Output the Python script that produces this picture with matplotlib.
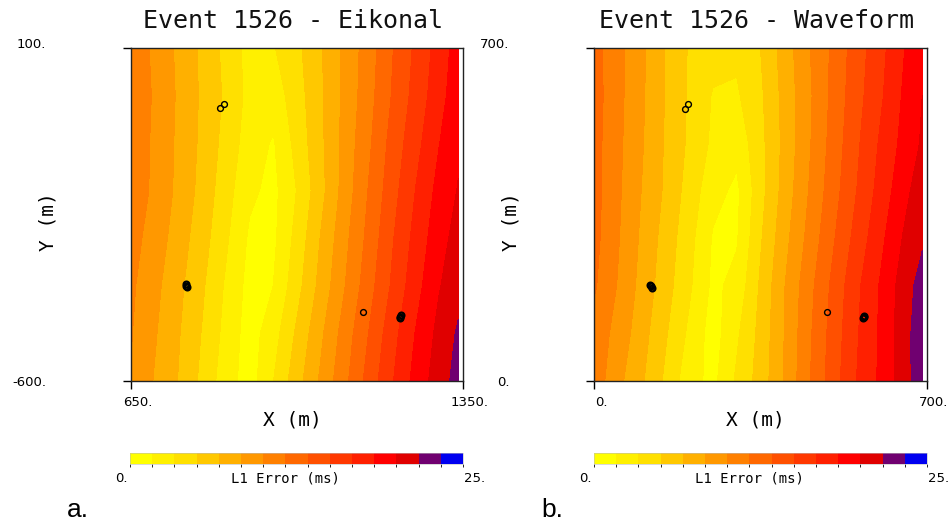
import numpy as np
import matplotlib
matplotlib.use("Agg")
import matplotlib.pyplot as plt
from matplotlib.colors import ListedColormap, BoundaryNorm
from matplotlib.cm import ScalarMappable
from matplotlib.transforms import ScaledTranslation

# ---------------- data ----------------
level_colors = ['#FFFF00', '#FFF000', '#FFE000', '#FFC800', '#FFB000',
                '#FF9800', '#FF8000', '#FF6800', '#FF5000', '#FF3800',
                '#FF2000', '#FF0000', '#E00000', '#700070', '#0000F0']
err_min, err_max = 0, 25

# Panel a: Eikonal (L1 error in ms on a coarse grid)
eik_x = [650, 700, 750, 800, 850, 900, 950, 1000, 1050, 1100, 1150, 1200, 1250, 1300, 1340]
eik_y = [100, 0, -100, -200, -300, -400, -500, -600]
eik_err = [
    [11.3, 9.6, 8.0, 6.3, 4.5, 2.7, 3.2, 4.6, 6.5, 8.7, 10.8, 13.2, 15.3, 17.4, 19.1],
    [11.2, 9.8, 8.1, 6.4, 4.7, 2.8, 2.4, 4.25, 6.4, 8.7, 11.0, 13.4, 15.6, 17.7, 19.4],
    [11.1, 9.7, 8.0, 6.3, 4.4, 2.5, 1.5, 3.9, 6.3, 8.9, 11.3, 13.9, 16.1, 18.3, 19.7],
    [10.9, 9.7, 7.9, 6.1, 4.0, 2.0, 1.2, 3.4, 6.1, 9.0, 11.7, 14.3, 16.7, 18.9, 20.1],
    [10.6, 9.3, 7.5, 5.7, 3.6, 1.4, 1.3, 3.9, 6.75, 9.5, 12.1, 14.8, 17.2, 19.4, 20.6],
    [10.3, 8.8, 7.1, 5.25, 3.1, 1.1, 1.67, 4.4, 7.2, 9.9, 12.6, 15.2, 17.7, 19.9, 21.1],
    [10.1, 8.5, 6.8, 4.9, 2.8, 0.9, 2.6, 5.3, 8.0, 10.7, 13.3, 16.0, 18.4, 20.5, 21.9],
    [9.9, 8.2, 6.6, 4.6, 2.4, 0.9, 3.3, 6.0, 8.6, 11.2, 13.9, 16.5, 18.9, 20.9, 22.3],
]
eik_open_x = [838, 846, 1139]
eik_open_y = [-26, -18, -455]
eik_cluster_x = [766, 769, 767, 1218, 1219, 1217]
eik_cluster_y = [-397, -403, -400, -465, -462, -468]

# Panel b: Waveform
wav_x = [0, 50, 100, 150, 200, 250, 300, 350, 400, 450, 500, 550, 600, 650, 690]
wav_y = [700, 600, 500, 400, 300, 200, 100, 0]
wav_err = [
    [12.3, 10.5, 8.7, 6.6, 4.85, 4.0, 3.7, 5.0, 7.4, 9.8, 11.9, 14.1, 16.05, 18.2, 19.8],
    [12.4, 10.5, 8.6, 6.6, 4.8, 3.2, 3.1, 4.7, 7.2, 9.6, 12.0, 14.3, 16.3, 18.5, 20.0],
    [12.3, 10.4, 8.5, 6.5, 4.7, 3.0, 2.2, 4.5, 7.1, 9.7, 12.2, 14.6, 16.8, 18.8, 20.2],
    [12.3, 10.3, 8.3, 6.4, 4.3, 2.25, 1.3, 4.4, 7.3, 9.95, 12.5, 14.9, 17.2, 19.4, 21.0],
    [12.2, 10.15, 8.05, 6.0, 3.9, 1.5, 1.5, 4.8, 7.75, 10.4, 13.0, 15.5, 17.8, 20.1, 21.4],
    [11.9, 9.9, 7.8, 5.7, 3.6, 1.3, 2.15, 5.25, 8.25, 11.0, 13.6, 16.2, 18.4, 20.75, 22.4],
    [11.0, 9.45, 7.35, 5.2, 3.0, 0.9, 3.05, 5.5, 8.35, 11.25, 13.9, 16.4, 18.5, 20.9, 22.8],
    [11.0, 8.8, 6.9, 4.7, 2.3, 1.2, 3.6, 5.7, 8.45, 11.4, 14.1, 16.6, 18.55, 20.8, 22.9],
]
wav_open_x = [191, 198, 489]
wav_open_y = [572, 582, 145]
wav_cluster_x = [118, 121, 119, 567, 566, 568]
wav_cluster_y = [202, 195, 199, 135, 132, 137]

panels = [
    dict(title="Event 1526 - Eikonal", x=eik_x, y=eik_y, z=eik_err,
         xlim=(650, 1350), ylim=(-600, 100),
         xticks=[650, 1350], xticklabels=["650.", "1350."],
         yticks=[-600, 100], yticklabels=["-600.", "100."],
         ox=eik_open_x, oy=eik_open_y, cx=eik_cluster_x, cy=eik_cluster_y,
         tag="a."),
    dict(title="Event 1526 - Waveform", x=wav_x, y=wav_y, z=wav_err,
         xlim=(0, 700), ylim=(0, 700),
         xticks=[0, 700], xticklabels=["0.", "700."],
         yticks=[0, 700], yticklabels=["0.", "700."],
         ox=wav_open_x, oy=wav_open_y, cx=wav_cluster_x, cy=wav_cluster_y,
         tag="b."),
]

# ---------------- figure ----------------
W, H = 951, 522
fig = plt.figure(figsize=(W / 100, H / 100), dpi=100)
fig.patch.set_facecolor("white")
mono = "DejaVu Sans Mono"
sans = "DejaVu Sans"


def fr(x0, y0, x1, y1):
    return [x0 / W, 1 - y1 / H, (x1 - x0) / W, (y1 - y0) / H]


levels = np.linspace(err_min, err_max, len(level_colors) + 1)
cmap = ListedColormap(level_colors)
norm = BoundaryNorm(levels, cmap.N)

ax_boxes = [(131, 48, 463, 381), (594, 48, 927, 381)]
cb_boxes = [(130, 453, 463, 464), (594, 453, 927, 464)]
tag_x = [67, 541]

for p, abox, cbox, tx in zip(panels, ax_boxes, cb_boxes, tag_x):
    ax = fig.add_axes(fr(*abox))
    X, Y = np.meshgrid(p["x"], p["y"])
    Z = np.array(p["z"])
    ax.contourf(X, Y, Z, levels=levels, cmap=cmap, norm=norm)
    ax.plot(p["ox"], p["oy"], "o", mfc="none", mec="black", ms=4.2, mew=1.0)
    ax.plot(p["cx"], p["cy"], "o", mfc="none", mec="black", ms=4.2, mew=1.6)
    ax.set_xlim(*p["xlim"])
    ax.set_ylim(*p["ylim"])
    for s in ax.spines.values():
        s.set_linewidth(1.0)
        s.set_color("#222222")
    ax.set_xticks(p["xticks"])
    ax.set_xticklabels(p["xticklabels"], family=sans, fontsize=9.5)
    ax.set_yticks(p["yticks"])
    ax.set_yticklabels(p["yticklabels"], family=sans, fontsize=9.5)
    ax.tick_params(axis="x", direction="out", length=6, width=1, pad=5)
    ax.tick_params(axis="y", direction="out", length=6, width=1, pad=55)
    for lab in ax.get_xticklabels():
        lab.set_ha("center")
        lab.set_transform(lab.get_transform() + ScaledTranslation(7 / 100, 0, fig.dpi_scale_trans))
    ylabs = ax.get_yticklabels()
    ylabs[-1].set_transform(ylabs[-1].get_transform() + ScaledTranslation(0, 5 / 100, fig.dpi_scale_trans))

    ax.set_xlabel("X (m)", family=mono, fontsize=14)
    ax.xaxis.label.set_va("center")
    ax.xaxis.set_label_coords(0.485, -0.118)
    ax.set_ylabel("Y (m)", family=mono, fontsize=14)
    ax.yaxis.label.set_va("center")
    ax.yaxis.label.set_ha("center")
    ax.yaxis.set_label_coords(-0.25, 0.48)

    cx0 = (abox[0] + abox[2]) / 2
    fig.text((cx0 - 4) / W, 1 - 21 / H, p["title"], family=mono, fontsize=18,
             ha="center", va="center", color="#111111")

    cax = fig.add_axes(fr(*cbox))
    cb = fig.colorbar(ScalarMappable(norm=norm, cmap=cmap), cax=cax,
                      orientation="horizontal", ticks=[])
    cb.outline.set_linewidth(0.4)
    cb.outline.set_edgecolor("#bbbbbb")
    cax.tick_params(length=0)
    fig.text((cbox[0] - 2) / W, 1 - 479 / H, "0.", family=sans, fontsize=9.5,
             ha="right", va="center")
    fig.text((cbox[2] + 1) / W, 1 - 479 / H, "25.", family=sans, fontsize=9.5,
             ha="left", va="center")
    fig.text(((cbox[0] + cbox[2]) / 2 - 11) / W, 1 - 479 / H, "L1 Error (ms)",
             family=mono, fontsize=10, ha="center", va="center")

    fig.text(tx / W, 1 - 517 / H, p["tag"], family="Liberation Sans",
             fontsize=19, ha="left", va="baseline")

fig.savefig("out.png", dpi=100, facecolor="white")
